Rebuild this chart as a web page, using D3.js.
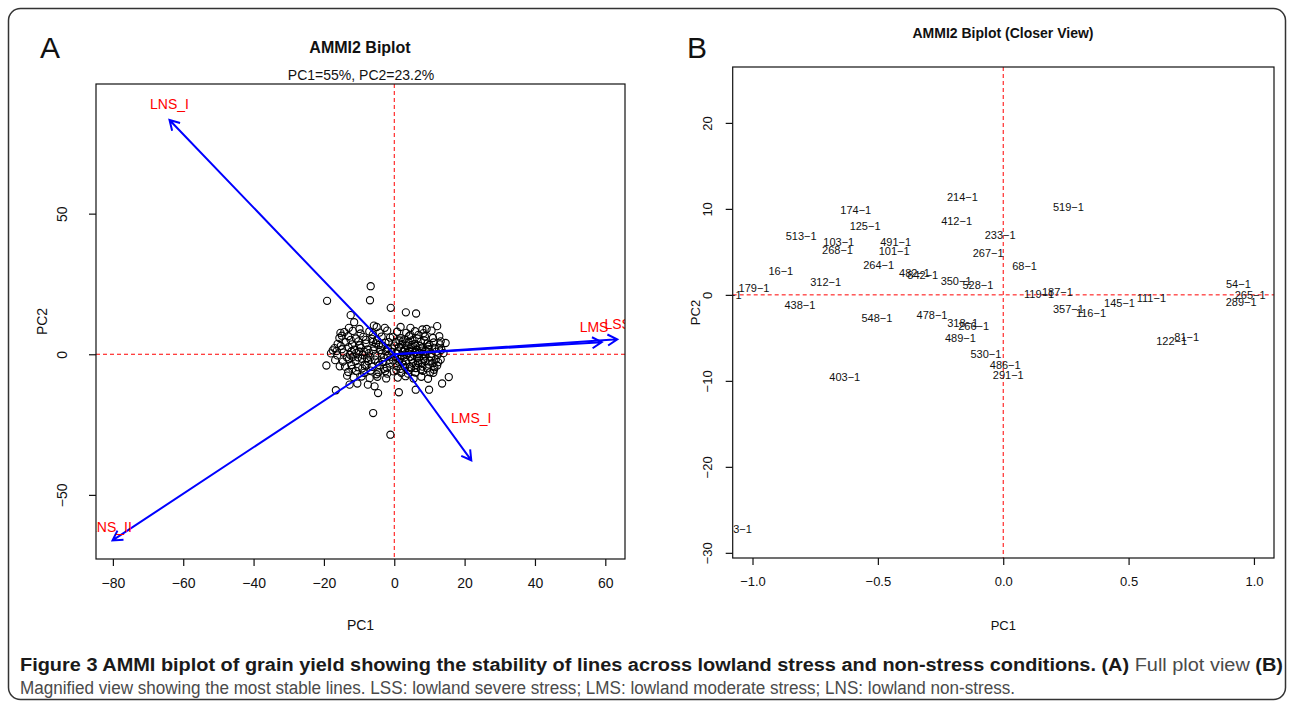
<!DOCTYPE html>
<html>
<head>
<meta charset="utf-8">
<script src="https://cdn.jsdelivr.net/npm/d3@7"></script>
<style>
body { margin: 0; background: #fff; }
svg { display: block; }
text { font-family: "Liberation Sans", Arial, Helvetica, sans-serif; }
</style>
</head>
<body>
<div id="chart"></div>
<script>
// Panel A: environment vectors (PC1, PC2) and their labels
var envNames = ['LNS_I', 'LMS_I', 'LNS_II', 'LMS', 'LSS'];
var envPC1 = [-63.9, 21.9, -80.1, 59.0, 63.4];
var envPC2 = [83.3, -37.7, -66.2, 4.3, 5.3];
var envLabelPC1 = [-63.9, 21.9, -80.7, 56.8, 63.5];
var envLabelPC2 = [89.0, -22.8, -61.6, 9.6, 10.7];

// Panel A: genotype scores [PC1, PC2]
var genoScores = [
    // outlying points
    [-6.7, 24.2], [-6.9, 19.2], [-19.1, 19.0], [-1.0, 16.5], [-12.4, 13.9], [-11.4, 11.4],
    [-12.9, 9.4], [-9.9, 9.0], [-15.3, 7.6], [-14.9, 6.6], [-5.8, 10.2], [-5.0, 9.7],
    [-2.7, 9.4], [-17.5, 1.4], [-19.3, -4.0], [-15.5, -4.3], [-13.4, -7.6], [-16.6, -12.8],
    [-12.7, -10.8], [-10.5, -10.4], [-7.5, -10.8], [-5.6, -11.4], [-4.6, -13.8], [-6.0, -20.9],
    [-1.1, -28.6], [3.3, 14.9], [6.2, 14.5], [12.2, 10.0], [9.2, 9.0], [8.0, 8.8],
    [4.6, 9.4], [1.8, 9.7], [13.2, 4.6], [14.6, 4.0], [13.2, -1.9], [12.2, -4.0],
    [15.5, -8.1], [13.6, -10.4], [11.1, -6.6], [9.9, -12.6], [6.1, -12.6], [1.3, -13.5],
    // left lobe
    [-14.2, 7.9], [-11.8, 8.3], [-9.6, 7.4], [-7.1, 8.1], [-4.2, 7.7], [-2.0, 8.4],
    [-15.6, 5.8], [-13.1, 6.4], [-10.9, 5.6], [-8.8, 6.2], [-6.4, 5.5], [-3.6, 6.3], [-1.2, 5.9],
    [-16.1, 3.7], [-13.8, 4.3], [-12.0, 3.5], [-10.2, 4.6], [-8.1, 3.8], [-6.0, 4.4], [-4.4, 3.3], [-2.5, 4.1],
    [-17.0, 2.2], [-14.9, 1.8], [-13.0, 2.5], [-11.4, 1.6], [-9.5, 2.3], [-7.6, 1.7], [-5.7, 2.6], [-3.9, 1.5], [-1.8, 2.2],
    [-18.0, 0.3], [-16.2, -0.4], [-14.4, 0.6], [-12.6, -0.2], [-10.8, 0.5], [-9.0, -0.3], [-7.2, 0.4], [-5.4, -0.5], [-3.6, 0.2], [-1.9, -0.6],
    [-16.8, -2.1], [-14.6, -2.6], [-12.9, -1.8], [-11.0, -2.4], [-9.2, -1.6], [-7.4, -2.5], [-5.5, -1.9], [-3.3, -2.7], [-1.4, -2.0],
    [-14.0, -4.4], [-12.2, -3.8], [-10.3, -4.6], [-8.4, -3.7], [-6.3, -4.5], [-4.2, -3.9], [-2.1, -4.8],
    [-13.1, -6.3], [-10.9, -5.9], [-8.6, -6.6], [-6.7, -5.8], [-4.5, -6.4], [-2.6, -6.0],
    [-11.6, -8.2], [-9.3, -7.9], [-7.0, -8.5], [-4.8, -8.0], [-2.3, -8.6],
    [-15.2, 3.0], [-12.4, 5.1], [-10.0, 1.0], [-8.0, 5.1], [-6.8, -1.1], [-11.9, -5.2], [-9.8, 3.2], [-5.0, -7.1],
    [-13.5, -1.1], [-7.9, -4.0], [-3.0, -5.2], [-16.4, 1.1], [-4.9, 5.0], [-6.1, 7.0], [-9.1, -5.0], [-12.2, 1.0],
    // right lobe
    [0.8, 8.0], [3.4, 7.6], [5.9, 8.2], [8.3, 7.5], [10.6, 8.4],
    [-0.4, 6.2], [1.9, 5.7], [4.2, 6.4], [6.5, 5.6], [8.7, 6.3], [11.0, 5.8], [12.8, 6.4],
    [0.5, 4.4], [2.3, 3.6], [4.1, 4.3], [5.8, 3.7], [7.6, 4.5], [9.4, 3.8], [11.2, 4.2], [13.0, 3.5],
    [-0.6, 2.0], [1.3, 2.6], [3.0, 1.7], [4.7, 2.4], [6.4, 1.6], [8.1, 2.5], [9.8, 1.8], [11.5, 2.3], [13.4, 1.6],
    [0.4, 0.3], [2.1, -0.4], [3.8, 0.5], [5.5, -0.2], [7.2, 0.6], [8.9, -0.5], [10.6, 0.2], [12.3, -0.3], [14.0, 0.4],
    [-0.3, -2.2], [1.6, -1.7], [3.3, -2.5], [5.0, -1.8], [6.7, -2.4], [8.4, -1.6], [10.1, -2.3], [11.8, -1.9],
    [0.7, -4.3], [2.6, -3.7], [4.4, -4.5], [6.2, -3.8], [8.0, -4.4], [9.8, -3.6], [11.4, -4.6],
    [-0.2, -6.1], [2.0, -6.6], [4.0, -5.8], [6.0, -6.5], [8.1, -5.9], [10.2, -6.4],
    [1.0, -8.3], [3.2, -7.8], [5.5, -8.6], [7.7, -8.0], [9.6, -8.7],
    [1.0, 1.1], [2.6, 0.9], [4.5, -1.0], [6.0, 3.0], [7.0, -1.2], [3.5, 3.1], [5.2, 5.0], [9.0, 1.0],
    [2.2, -2.9], [7.8, -3.1], [4.8, -5.0], [10.5, -1.0], [1.5, 4.9], [6.9, 6.9], [3.9, -6.9], [8.6, 4.9],
    [11.9, 0.9], [0.2, -0.9], [5.9, 0.8], [2.9, 5.3], [9.3, -5.0], [12.5, -2.8], [7.3, 2.9], [1.8, -5.2],
    // dense centre
    [-0.8, 0.9], [0.9, -1.3], [-2.4, 1.0], [2.9, -1.2], [4.2, 1.2], [5.3, -3.1], [6.6, 0.0], [7.9, 1.3],
    [3.1, -4.6], [-1.3, -3.3], [0.0, 3.1], [1.2, -2.6], [4.9, 3.3], [6.1, -4.9], [8.8, -2.4], [9.6, 2.7],
    [10.9, -3.1], [-3.0, -1.1], [-4.6, -2.9], [-6.0, 1.3], [-7.8, -1.4], [-8.5, 0.9], [-10.3, -1.1], [-11.8, -0.9],
    [-5.2, 3.9], [-3.2, 3.0], [2.0, 2.1], [3.6, -0.3], [5.1, 1.3], [6.8, -3.2], [7.6, -5.4], [2.4, 4.6],
    [-1.6, 4.3], [0.6, -5.6], [-2.0, -6.9], [4.6, 6.9], [8.2, 0.1], [10.0, 3.3], [11.3, -5.5], [12.7, 2.1]
];

// Panel B: closer view of the most stable lines
var closeNames = ['214-1', '174-1', '412-1', '125-1', '513-1', '233-1', '103-1', '491-1', '268-1', '101-1',
    '267-1', '519-1', '264-1', '68-1', '16-1', '482-1', '842-1', '312-1', '350-1', '528-1',
    '179-1', '54-1', '119-1', '187-1', '265-1', '111-1', '145-1', '289-1', '438-1', '357-1',
    '116-1', '478-1', '548-1', '318-1', '266-1', '489-1', '81-1', '122-1', '530-1', '486-1',
    '291-1', '403-1', '501-1', '543-1'];
var closePC1 = [-0.163, -0.588, -0.186, -0.551, -0.806, -0.012, -0.656, -0.429, -0.661, -0.435,
    -0.060, 0.260, -0.497, 0.085, -0.887, -0.354, -0.321, -0.708, -0.188, -0.101,
    -0.994, 0.938, 0.143, 0.216, 0.985, 0.591, 0.464, 0.949, -0.811, 0.260,
    0.350, -0.284, -0.504, -0.162, -0.118, -0.171, 0.732, 0.672, -0.069, 0.008,
    0.020, -0.632, -1.105, -1.064];
var closePC2 = [11.4, 9.87, 8.59, 8.04, 6.84, 6.96, 6.18, 6.18, 5.21, 5.13,
    4.86, 10.2, 3.46, 3.3, 2.80, 2.53, 2.30, 1.48, 1.63, 1.13,
    0.82, 1.24, 0.08, 0.27, -0.03, -0.35, -0.93, -0.89, -1.2, -1.67,
    -2.14, -2.37, -2.68, -3.30, -3.69, -5.01, -4.95, -5.36, -6.88, -8.12,
    -9.36, -9.6, -0.07, -27.3];

// tick values
var ticksAx = [-80, -60, -40, -20, 0, 20, 40, 60];
var ticksAy = [-50, 0, 50];
var ticksBx = [-1, -0.5, 0, 0.5, 1];
var ticksBy = [-30, -20, -10, 0, 10, 20];

var width = 1290, height = 702;
var svg = d3.select('#chart').append('svg')
    .attr('width', width)
    .attr('height', height);

// outer frame
svg.append('rect')
    .attr('x', 8.5).attr('y', 8.5)
    .attr('width', 1277).attr('height', 691)
    .attr('rx', 12)
    .attr('fill', 'none')
    .attr('stroke', '#333')
    .attr('stroke-width', 1.5);

var defs = svg.append('defs');

function drawAxes(g, xs, ys, xt, yt, fmt, fs, yLabOff, yTitleOff) {
    var x0 = xs.range()[0], x1 = xs.range()[1];
    var y0 = ys.range()[0], y1 = ys.range()[1];

    var xa = g.append('g')
        .attr('transform', `translate(0, ${y0})`)
        .call(d3.axisBottom(xs).tickValues(xt).tickFormat(fmt).tickSizeOuter(0).tickSize(7).tickPadding(12));
    xa.select('.domain').remove();
    xa.selectAll('line').attr('stroke', '#111').attr('stroke-width', 1.2);
    xa.selectAll('text').attr('fill', '#111').style('font-size', fs + 'px')
        .style('font-family', '"Liberation Sans", Arial, sans-serif');

    var ya = g.append('g')
        .attr('transform', `translate(${x0}, 0)`)
        .call(d3.axisLeft(ys).tickValues(yt).tickFormat(d3.format('d')).tickSizeOuter(0).tickSize(7));
    ya.select('.domain').remove();
    ya.selectAll('line').attr('stroke', '#111').attr('stroke-width', 1.2);
    ya.selectAll('text')
        .attr('fill', '#111')
        .style('font-size', fs + 'px')
        .style('font-family', '"Liberation Sans", Arial, sans-serif')
        .attr('transform', 'rotate(-90)')
        .attr('x', 0)
        .attr('y', -yLabOff)
        .attr('dy', '0.35em')
        .style('text-anchor', 'middle');

    // box
    g.append('rect')
        .attr('x', x0).attr('y', y1)
        .attr('width', x1 - x0).attr('height', y0 - y1)
        .attr('fill', 'none')
        .attr('stroke', '#111')
        .attr('stroke-width', 1.2);

    g.append('text')
        .attr('x', (x0 + x1) / 2).attr('y', 625)
        .attr('dy', '0.35em')
        .attr('text-anchor', 'middle')
        .style('font-size', fs + 'px')
        .attr('fill', '#111')
        .text('PC1');

    g.append('text')
        .attr('transform', `translate(${x0 - yTitleOff}, ${(y0 + y1) / 2}) rotate(-90)`)
        .attr('dy', '0.35em')
        .attr('text-anchor', 'middle')
        .style('font-size', fs + 'px')
        .attr('fill', '#111')
        .text('PC2');
}

function refLines(g, xs, ys, clip) {
    var lines = g.append('g').attr('clip-path', `url(#${clip})`);
    lines.append('line')
        .attr('x1', xs(0)).attr('x2', xs(0))
        .attr('y1', ys.range()[1]).attr('y2', ys.range()[0])
        .attr('stroke', '#f00').attr('stroke-dasharray', '4,3');
    lines.append('line')
        .attr('x1', xs.range()[0]).attr('x2', xs.range()[1])
        .attr('y1', ys(0)).attr('y2', ys(0))
        .attr('stroke', '#f00').attr('stroke-dasharray', '4,3');
}

// ---------- Panel A ----------
var xA = d3.scaleLinear().domain([-84.8, 65.6]).range([96, 625]);
var yA = d3.scaleLinear().domain([-72.8, 96.1]).range([559, 84]);

defs.append('clipPath').attr('id', 'clipA').append('rect')
    .attr('x', 96).attr('y', 84).attr('width', 625 - 96).attr('height', 559 - 84);

var gA = svg.append('g');

gA.append('text').attr('x', 50).attr('y', 47).attr('dy', '0.35em')
    .attr('text-anchor', 'middle').style('font-size', '30px').attr('fill', '#111').text('A');
gA.append('text').attr('x', 360).attr('y', 47).attr('dy', '0.35em')
    .attr('text-anchor', 'middle').style('font-size', '16px').style('font-weight', 'bold')
    .attr('fill', '#111').text('AMMI2 Biplot');
gA.append('text').attr('x', 361).attr('y', 75).attr('dy', '0.35em')
    .attr('text-anchor', 'middle').style('font-size', '14px')
    .attr('fill', '#111').text('PC1=55%, PC2=23.2%');

refLines(gA, xA, yA, 'clipA');

var plotA = gA.append('g').attr('clip-path', 'url(#clipA)');

plotA.selectAll('circle')
    .data(genoScores)
    .enter()
    .append('circle')
    .attr('cx', d => xA(d[0]))
    .attr('cy', d => yA(d[1]))
    .attr('r', 3.6)
    .attr('fill', 'none')
    .attr('stroke', '#000')
    .attr('stroke-width', 1.1);

var envData = envNames.map((n, i) => ({
    name: n, x: envPC1[i], y: envPC2[i], lx: envLabelPC1[i], ly: envLabelPC2[i]
}));

function arrowPath(d) {
    var x0 = xA(0), y0 = yA(0), x1 = xA(d.x), y1 = yA(d.y);
    var ang = Math.atan2(y1 - y0, x1 - x0);
    var len = 11, spread = Math.PI / 6;
    var ax = x1 - len * Math.cos(ang - spread), ay = y1 - len * Math.sin(ang - spread);
    var bx = x1 - len * Math.cos(ang + spread), by = y1 - len * Math.sin(ang + spread);
    return `M${x0},${y0}L${x1},${y1}M${ax},${ay}L${x1},${y1}L${bx},${by}`;
}

plotA.selectAll('.env-arrow')
    .data(envData)
    .enter()
    .append('path')
    .attr('class', 'env-arrow')
    .attr('d', arrowPath)
    .attr('fill', 'none')
    .attr('stroke', '#0000ff')
    .attr('stroke-width', 2);

plotA.selectAll('.env-label')
    .data(envData)
    .enter()
    .append('text')
    .attr('class', 'env-label')
    .attr('x', d => xA(d.lx))
    .attr('y', d => yA(d.ly))
    .attr('dy', '0.35em')
    .attr('text-anchor', 'middle')
    .style('font-size', '14px')
    .attr('fill', '#ff0000')
    .text(d => d.name);

drawAxes(gA, xA, yA, ticksAx, ticksAy, d3.format('d'), 14, 34, 54);

// ---------- Panel B ----------
var xB = d3.scaleLinear().domain([-1.079, 1.080]).range([732.7, 1274]);
var yB = d3.scaleLinear().domain([-30.6, 26.5]).range([558, 67]);

defs.append('clipPath').attr('id', 'clipB').append('rect')
    .attr('x', 732.7).attr('y', 67).attr('width', 1274 - 732.7).attr('height', 558 - 67);

var gB = svg.append('g');

gB.append('text').attr('x', 697).attr('y', 47).attr('dy', '0.35em')
    .attr('text-anchor', 'middle').style('font-size', '30px').attr('fill', '#111').text('B');
gB.append('text').attr('x', 1003).attr('y', 33).attr('dy', '0.35em')
    .attr('text-anchor', 'middle').style('font-size', '14px').style('font-weight', 'bold')
    .attr('fill', '#111').text('AMMI2 Biplot (Closer View)');

refLines(gB, xB, yB, 'clipB');

var closeData = closeNames.map((n, i) => ({ name: n, x: closePC1[i], y: closePC2[i] }));

gB.append('g').attr('clip-path', 'url(#clipB)')
    .selectAll('text')
    .data(closeData)
    .enter()
    .append('text')
    .attr('x', d => xB(d.x))
    .attr('y', d => yB(d.y))
    .attr('dy', '0.35em')
    .attr('text-anchor', 'middle')
    .style('font-size', '11px')
    .attr('fill', '#111')
    .text(d => d.name.replace('-', '\u2212'));

drawAxes(gB, xB, yB, ticksBx, ticksBy, d3.format('.1f'), 13, 25, 37);

// ---------- Caption ----------
var cap = svg.append('g')
    .style('font-family', '"Liberation Sans Narrow", "DejaVu Sans Condensed", "Liberation Sans", sans-serif')
    .style('font-size', '18px');

var line1 = cap.append('text')
    .attr('x', 20).attr('y', 671)
    .attr('textLength', 1263)
    .attr('lengthAdjust', 'spacingAndGlyphs');
line1.append('tspan').style('font-weight', 'bold').attr('fill', '#1a1a1a')
    .text('Figure 3 AMMI biplot of grain yield showing the stability of lines across lowland stress and non-stress conditions. (A)');
line1.append('tspan').attr('fill', '#4a4a4a').text(' Full plot view ');
line1.append('tspan').style('font-weight', 'bold').attr('fill', '#1a1a1a').text('(B)');

cap.append('text')
    .attr('x', 20).attr('y', 694)
    .attr('textLength', 995)
    .attr('lengthAdjust', 'spacingAndGlyphs')
    .attr('fill', '#4a4a4a')
    .text('Magnified view showing the most stable lines. LSS: lowland severe stress; LMS: lowland moderate stress; LNS: lowland non-stress.');
</script>
</body>
</html>
